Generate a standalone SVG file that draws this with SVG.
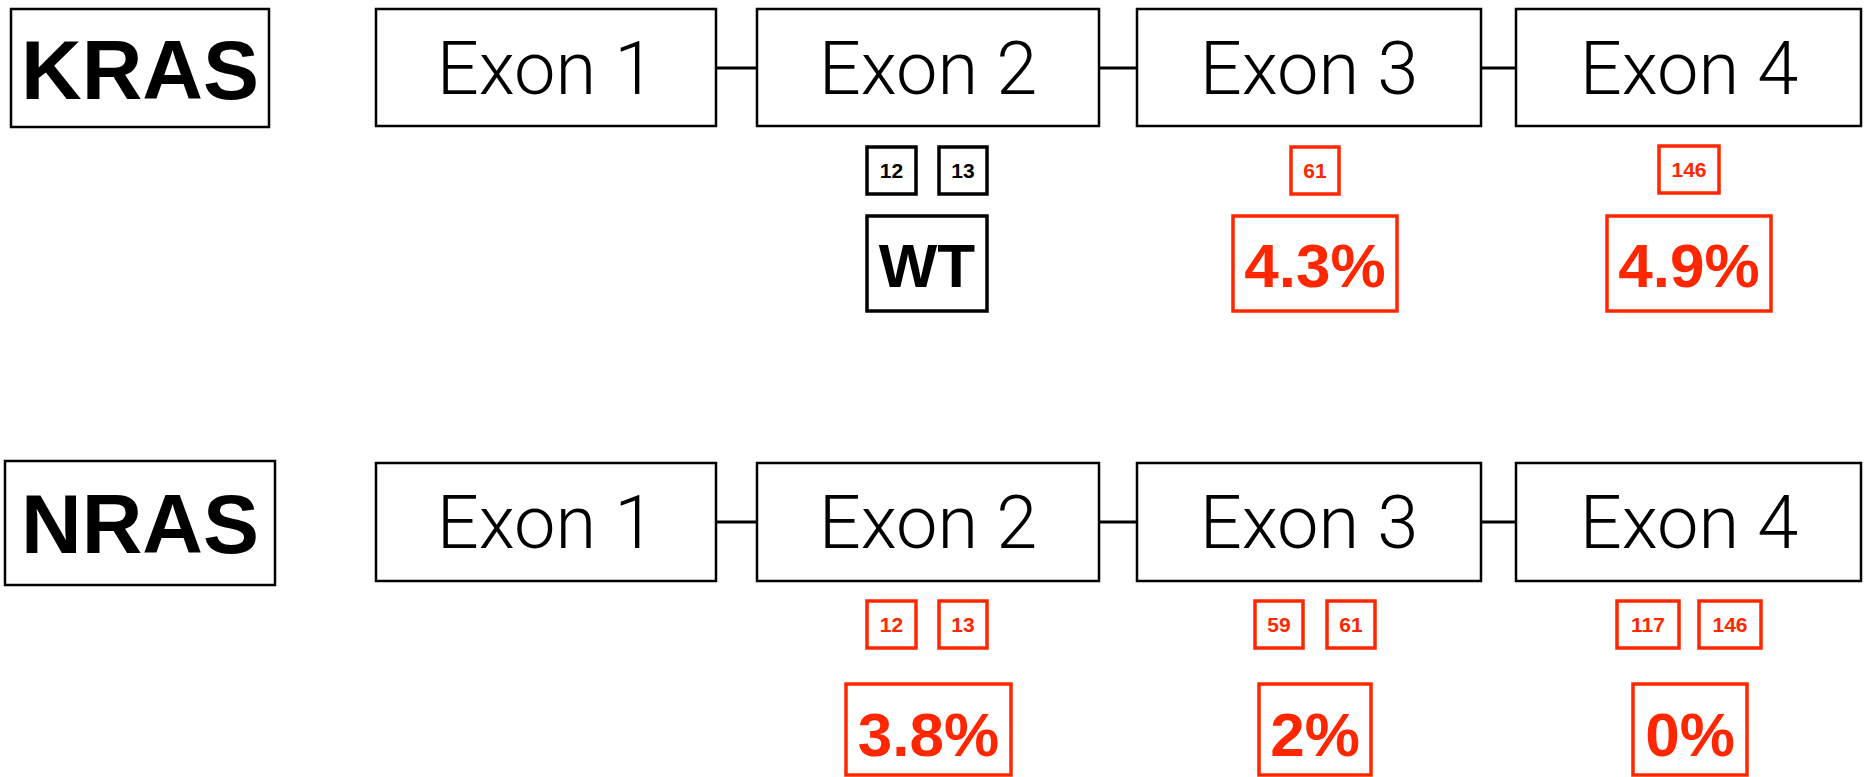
<svg xmlns="http://www.w3.org/2000/svg" width="1866" height="777" viewBox="0 0 1866 777">
  <style>
    .gene { fill: #fff; stroke: #000; stroke-width: 2.5; }
    .gene-label { font-family: "Liberation Sans", Arial, sans-serif; font-weight: bold; font-size: 84px; fill: #000; text-anchor: middle; }
    .exon { fill: #fff; stroke: #000; stroke-width: 2.5; }
    .exon-label { font-family: Roboto, "Liberation Sans", sans-serif; font-weight: 300; font-size: 74px; fill: #000; text-anchor: middle; }
    .codon { fill: #fff; stroke-width: 3.5; }
    .codon-label { font-family: "Liberation Sans", Arial, sans-serif; font-weight: bold; font-size: 21px; text-anchor: middle; }
    .freq { fill: #fff; stroke-width: 3.5; }
    .freq-label { font-family: "Liberation Sans", Arial, sans-serif; font-weight: bold; font-size: 62px; text-anchor: middle; }
    .blk { stroke: #000; }
    .blk-t { fill: #000; }
    .red { stroke: #ff2600; }
    .red-t { fill: #ff2600; }
    .link { stroke: #000; stroke-width: 3; fill: none; }
  </style>
  <rect width="1866" height="777" fill="#fff"/>

  <!-- exon linkers -->
  <g id="connectors">
    <line class="link" x1="716" y1="68" x2="757" y2="68"/>
    <line class="link" x1="1099" y1="68" x2="1137" y2="68"/>
    <line class="link" x1="1481" y1="68" x2="1516" y2="68"/>
    <line class="link" x1="716" y1="522" x2="757" y2="522"/>
    <line class="link" x1="1099" y1="522" x2="1137" y2="522"/>
    <line class="link" x1="1481" y1="522" x2="1516" y2="522"/>
  </g>

  <!-- KRAS row -->
  <g id="kras">
    <rect class="gene" x="11" y="9" width="258" height="118"/>
    <text class="gene-label" x="140" y="99">KRAS</text>
  </g>
  <g id="kras-exon1">
    <rect class="exon" x="376" y="9" width="340" height="117"/>
    <text class="exon-label" x="546" y="94">Exon 1</text>
  </g>
  <g id="kras-exon2">
    <rect class="exon" x="757" y="9" width="342" height="117"/>
    <text class="exon-label" x="928" y="94">Exon 2</text>
  </g>
  <g id="kras-exon3">
    <rect class="exon" x="1137" y="9" width="344" height="117"/>
    <text class="exon-label" x="1309" y="94">Exon 3</text>
  </g>
  <g id="kras-exon4">
    <rect class="exon" x="1516" y="9" width="345" height="117"/>
    <text class="exon-label" x="1689" y="94">Exon 4</text>
  </g>
  <g id="kras-c12">
    <rect class="codon blk" x="867" y="147" width="49" height="47"/>
    <text class="codon-label blk-t" x="891.5" y="178">12</text>
  </g>
  <g id="kras-c13">
    <rect class="codon blk" x="939" y="147" width="48" height="47"/>
    <text class="codon-label blk-t" x="963" y="178">13</text>
  </g>
  <g id="kras-exon2-freq">
    <rect class="freq blk" x="867" y="216" width="120" height="95"/>
    <text class="freq-label blk-t" x="927" y="287">WT</text>
  </g>
  <g id="kras-c61">
    <rect class="codon red" x="1291" y="147" width="48" height="47"/>
    <text class="codon-label red-t" x="1315" y="178">61</text>
  </g>
  <g id="kras-exon3-freq">
    <rect class="freq red" x="1233" y="216" width="164" height="95"/>
    <text class="freq-label red-t" x="1315" y="287">4.3%</text>
  </g>
  <g id="kras-c146">
    <rect class="codon red" x="1659" y="146" width="60" height="47"/>
    <text class="codon-label red-t" x="1689" y="177">146</text>
  </g>
  <g id="kras-exon4-freq">
    <rect class="freq red" x="1607" y="216" width="164" height="95"/>
    <text class="freq-label red-t" x="1689" y="287">4.9%</text>
  </g>

  <!-- NRAS row -->
  <g id="nras">
    <rect class="gene" x="5" y="461" width="270" height="124"/>
    <text class="gene-label" x="140" y="553">NRAS</text>
  </g>
  <g id="nras-exon1">
    <rect class="exon" x="376" y="463" width="340" height="118"/>
    <text class="exon-label" x="546" y="548">Exon 1</text>
  </g>
  <g id="nras-exon2">
    <rect class="exon" x="757" y="463" width="342" height="118"/>
    <text class="exon-label" x="928" y="548">Exon 2</text>
  </g>
  <g id="nras-exon3">
    <rect class="exon" x="1137" y="463" width="344" height="118"/>
    <text class="exon-label" x="1309" y="548">Exon 3</text>
  </g>
  <g id="nras-exon4">
    <rect class="exon" x="1516" y="463" width="345" height="118"/>
    <text class="exon-label" x="1689" y="548">Exon 4</text>
  </g>
  <g id="nras-c12">
    <rect class="codon red" x="867" y="601" width="49" height="47"/>
    <text class="codon-label red-t" x="891.5" y="632">12</text>
  </g>
  <g id="nras-c13">
    <rect class="codon red" x="939" y="601" width="48" height="47"/>
    <text class="codon-label red-t" x="963" y="632">13</text>
  </g>
  <g id="nras-exon2-freq">
    <rect class="freq red" x="846" y="684" width="165" height="91"/>
    <text class="freq-label red-t" x="928.5" y="756">3.8%</text>
  </g>
  <g id="nras-c59">
    <rect class="codon red" x="1255" y="601" width="48" height="47"/>
    <text class="codon-label red-t" x="1279" y="632">59</text>
  </g>
  <g id="nras-c61">
    <rect class="codon red" x="1327" y="601" width="48" height="47"/>
    <text class="codon-label red-t" x="1351" y="632">61</text>
  </g>
  <g id="nras-exon3-freq">
    <rect class="freq red" x="1259" y="684" width="112" height="91"/>
    <text class="freq-label red-t" x="1315" y="756">2%</text>
  </g>
  <g id="nras-c117">
    <rect class="codon red" x="1617" y="601" width="62" height="47"/>
    <text class="codon-label red-t" x="1648" y="632">117</text>
  </g>
  <g id="nras-c146">
    <rect class="codon red" x="1699" y="601" width="62" height="47"/>
    <text class="codon-label red-t" x="1730" y="632">146</text>
  </g>
  <g id="nras-exon4-freq">
    <rect class="freq red" x="1633" y="684" width="114" height="91"/>
    <text class="freq-label red-t" x="1690" y="756">0%</text>
  </g>
</svg>
